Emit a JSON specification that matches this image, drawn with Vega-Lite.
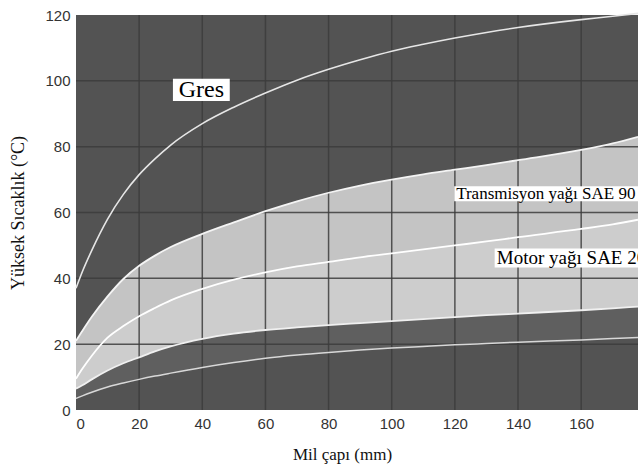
{
  "$schema": "https://vega.github.io/schema/vega-lite/v6.json",
  "width": 562,
  "height": 395,
  "autosize": {"type": "none"},
  "padding": {"left": 76, "top": 15, "right": 0, "bottom": 60},
  "background": "white",
  "config": {
    "view": {"fill": "#535353", "stroke": null},
    "axis": {
      "labelFont": "Liberation Sans",
      "labelFontSize": 15,
      "labelColor": "#333333",
      "titleFont": "Liberation Serif",
      "titleFontSize": 17,
      "titleFontWeight": "normal",
      "titleColor": "#111111",
      "ticks": false,
      "domain": false
    }
  },
  "datasets": {
    "curves": [
      {"x": 0, "g": 37, "t": 21, "m": 9.5, "h": 6.5, "b": 3.5},
      {"x": 2, "g": 42, "t": 24, "m": 12.5, "h": 7.5, "b": 4.3},
      {"x": 5, "g": 48.5, "t": 28.3, "m": 16.5, "h": 9.3, "b": 5.4},
      {"x": 10, "g": 58, "t": 34.5, "m": 22, "h": 12, "b": 7},
      {"x": 15, "g": 65.5, "t": 39.8, "m": 25.5, "h": 14.2, "b": 8.2},
      {"x": 20, "g": 71.5, "t": 43.8, "m": 28.5, "h": 16, "b": 9.3},
      {"x": 25, "g": 76.3, "t": 46.9, "m": 31, "h": 17.8, "b": 10.3},
      {"x": 30, "g": 80.5, "t": 49.5, "m": 33.3, "h": 19.3, "b": 11.2},
      {"x": 40, "g": 87, "t": 53.5, "m": 36.8, "h": 21.6, "b": 12.9},
      {"x": 50, "g": 92, "t": 57, "m": 39.6, "h": 23.2, "b": 14.4},
      {"x": 60, "g": 96.3, "t": 60.4, "m": 41.8, "h": 24.3, "b": 15.7},
      {"x": 70, "g": 100.2, "t": 63.4, "m": 43.6, "h": 25.1, "b": 16.7},
      {"x": 80, "g": 103.5, "t": 66, "m": 45, "h": 25.8, "b": 17.5},
      {"x": 90, "g": 106.4, "t": 68.2, "m": 46.4, "h": 26.4, "b": 18.2},
      {"x": 100, "g": 109, "t": 70, "m": 47.6, "h": 27, "b": 18.8},
      {"x": 110, "g": 111.1, "t": 71.6, "m": 48.8, "h": 27.6, "b": 19.3},
      {"x": 120, "g": 113, "t": 73, "m": 50, "h": 28.2, "b": 19.8},
      {"x": 130, "g": 114.7, "t": 74.4, "m": 51.2, "h": 28.8, "b": 20.2},
      {"x": 140, "g": 116.2, "t": 75.9, "m": 52.5, "h": 29.3, "b": 20.6},
      {"x": 160, "g": 118.6, "t": 79, "m": 55, "h": 30.3, "b": 21.3},
      {"x": 170, "g": 119.6, "t": 81, "m": 56.4, "h": 30.9, "b": 21.7},
      {"x": 178, "g": 120.5, "t": 83, "m": 57.8, "h": 31.4, "b": 22}
    ],
    "labels": [
      {"key": "gres", "label": "Gres", "x": 30.7, "x2": 48.7, "y": 93.9, "y2": 100.6, "tx": 39.7, "ty": 97.2},
      {"key": "trans", "label": "Transmisyon yağı SAE 90", "x": 119.8, "x2": 178, "y": 63.4, "y2": 68, "tx": 120.4, "ty": 65.6},
      {"key": "motor", "label": "Motor yağı SAE 20", "x": 132.6, "x2": 178, "y": 43.3, "y2": 49.1, "tx": 133.3, "ty": 46.1}
    ]
  },
  "layer": [
    {
      "data": {"name": "curves"},
      "mark": {"type": "area", "interpolate": "monotone", "color": "#c4c4c4"},
      "encoding": {
        "x": {"field": "x", "type": "quantitative", "scale": {"domain": [0, 178], "nice": false},
          "axis": {"values": [0, 20, 40, 60, 80, 100, 120, 140, 160], "grid": false, "labelPadding": 6, "title": "Mil çapı (mm)", "titlePadding": 15, "titleX": 266}},
        "y": {"field": "t", "type": "quantitative", "scale": {"domain": [0, 120], "nice": false},
          "axis": {"values": [0, 20, 40, 60, 80, 100, 120], "grid": false, "labelPadding": 6, "title": "Yüksek Sıcaklık (°C)", "titleFontSize": 18, "titlePadding": 17}},
        "y2": {"field": "m"}
      }
    },
    {
      "data": {"name": "curves"},
      "mark": {"type": "area", "interpolate": "monotone", "color": "#cdcdcd"},
      "encoding": {
        "x": {"field": "x", "type": "quantitative"},
        "y": {"field": "m", "type": "quantitative"},
        "y2": {"field": "h"}
      }
    },
    {
      "data": {"name": "curves"},
      "mark": {"type": "area", "interpolate": "monotone", "color": "#5f5f5f"},
      "encoding": {
        "x": {"field": "x", "type": "quantitative"},
        "y": {"field": "h", "type": "quantitative"},
        "y2": {"field": "b"}
      }
    },
    {
      "data": {"values": [{"v": 20}, {"v": 40}, {"v": 60}, {"v": 80}, {"v": 100}]},
      "mark": {"type": "rule", "color": "#3c3c3c", "strokeWidth": 1.5, "opacity": 0.85},
      "encoding": {"y": {"field": "v", "type": "quantitative"}}
    },
    {
      "data": {"values": [{"v": 20}, {"v": 40}, {"v": 60}, {"v": 80}, {"v": 100}, {"v": 120}, {"v": 140}, {"v": 160}]},
      "mark": {"type": "rule", "color": "#3c3c3c", "strokeWidth": 1.5, "opacity": 0.85},
      "encoding": {"x": {"field": "v", "type": "quantitative"}}
    },
    {
      "data": {"name": "curves"},
      "mark": {"type": "line", "interpolate": "monotone", "color": "#e6e6e6", "strokeWidth": 1.6},
      "encoding": {"x": {"field": "x", "type": "quantitative"}, "y": {"field": "g", "type": "quantitative"}}
    },
    {
      "data": {"name": "curves"},
      "mark": {"type": "line", "interpolate": "monotone", "color": "#f4f4f4", "strokeWidth": 1.8},
      "encoding": {"x": {"field": "x", "type": "quantitative"}, "y": {"field": "t", "type": "quantitative"}}
    },
    {
      "data": {"name": "curves"},
      "mark": {"type": "line", "interpolate": "monotone", "color": "#ffffff", "strokeWidth": 1.8},
      "encoding": {"x": {"field": "x", "type": "quantitative"}, "y": {"field": "m", "type": "quantitative"}}
    },
    {
      "data": {"name": "curves"},
      "mark": {"type": "line", "interpolate": "monotone", "color": "#f0f0f0", "strokeWidth": 1.8},
      "encoding": {"x": {"field": "x", "type": "quantitative"}, "y": {"field": "h", "type": "quantitative"}}
    },
    {
      "data": {"name": "curves"},
      "mark": {"type": "line", "interpolate": "monotone", "color": "#d8d8d8", "strokeWidth": 1.5},
      "encoding": {"x": {"field": "x", "type": "quantitative"}, "y": {"field": "b", "type": "quantitative"}}
    },
    {
      "data": {"name": "labels"},
      "mark": {"type": "rect", "color": "#ffffff"},
      "encoding": {
        "x": {"field": "x", "type": "quantitative"},
        "x2": {"field": "x2"},
        "y": {"field": "y", "type": "quantitative"},
        "y2": {"field": "y2"}
      }
    },
    {
      "data": {"name": "labels"},
      "transform": [{"filter": "datum.key === 'gres'"}],
      "mark": {"type": "text", "font": "Liberation Serif", "fontSize": 24, "color": "#000000", "align": "center", "baseline": "middle"},
      "encoding": {"x": {"field": "tx", "type": "quantitative"}, "y": {"field": "ty", "type": "quantitative"}, "text": {"field": "label"}}
    },
    {
      "data": {"name": "labels"},
      "transform": [{"filter": "datum.key === 'trans'"}],
      "mark": {"type": "text", "font": "Liberation Serif", "fontSize": 17, "color": "#000000", "align": "left", "baseline": "middle"},
      "encoding": {"x": {"field": "tx", "type": "quantitative"}, "y": {"field": "ty", "type": "quantitative"}, "text": {"field": "label"}}
    },
    {
      "data": {"name": "labels"},
      "transform": [{"filter": "datum.key === 'motor'"}],
      "mark": {"type": "text", "font": "Liberation Serif", "fontSize": 19, "color": "#000000", "align": "left", "baseline": "middle"},
      "encoding": {"x": {"field": "tx", "type": "quantitative"}, "y": {"field": "ty", "type": "quantitative"}, "text": {"field": "label"}}
    }
  ]
}
